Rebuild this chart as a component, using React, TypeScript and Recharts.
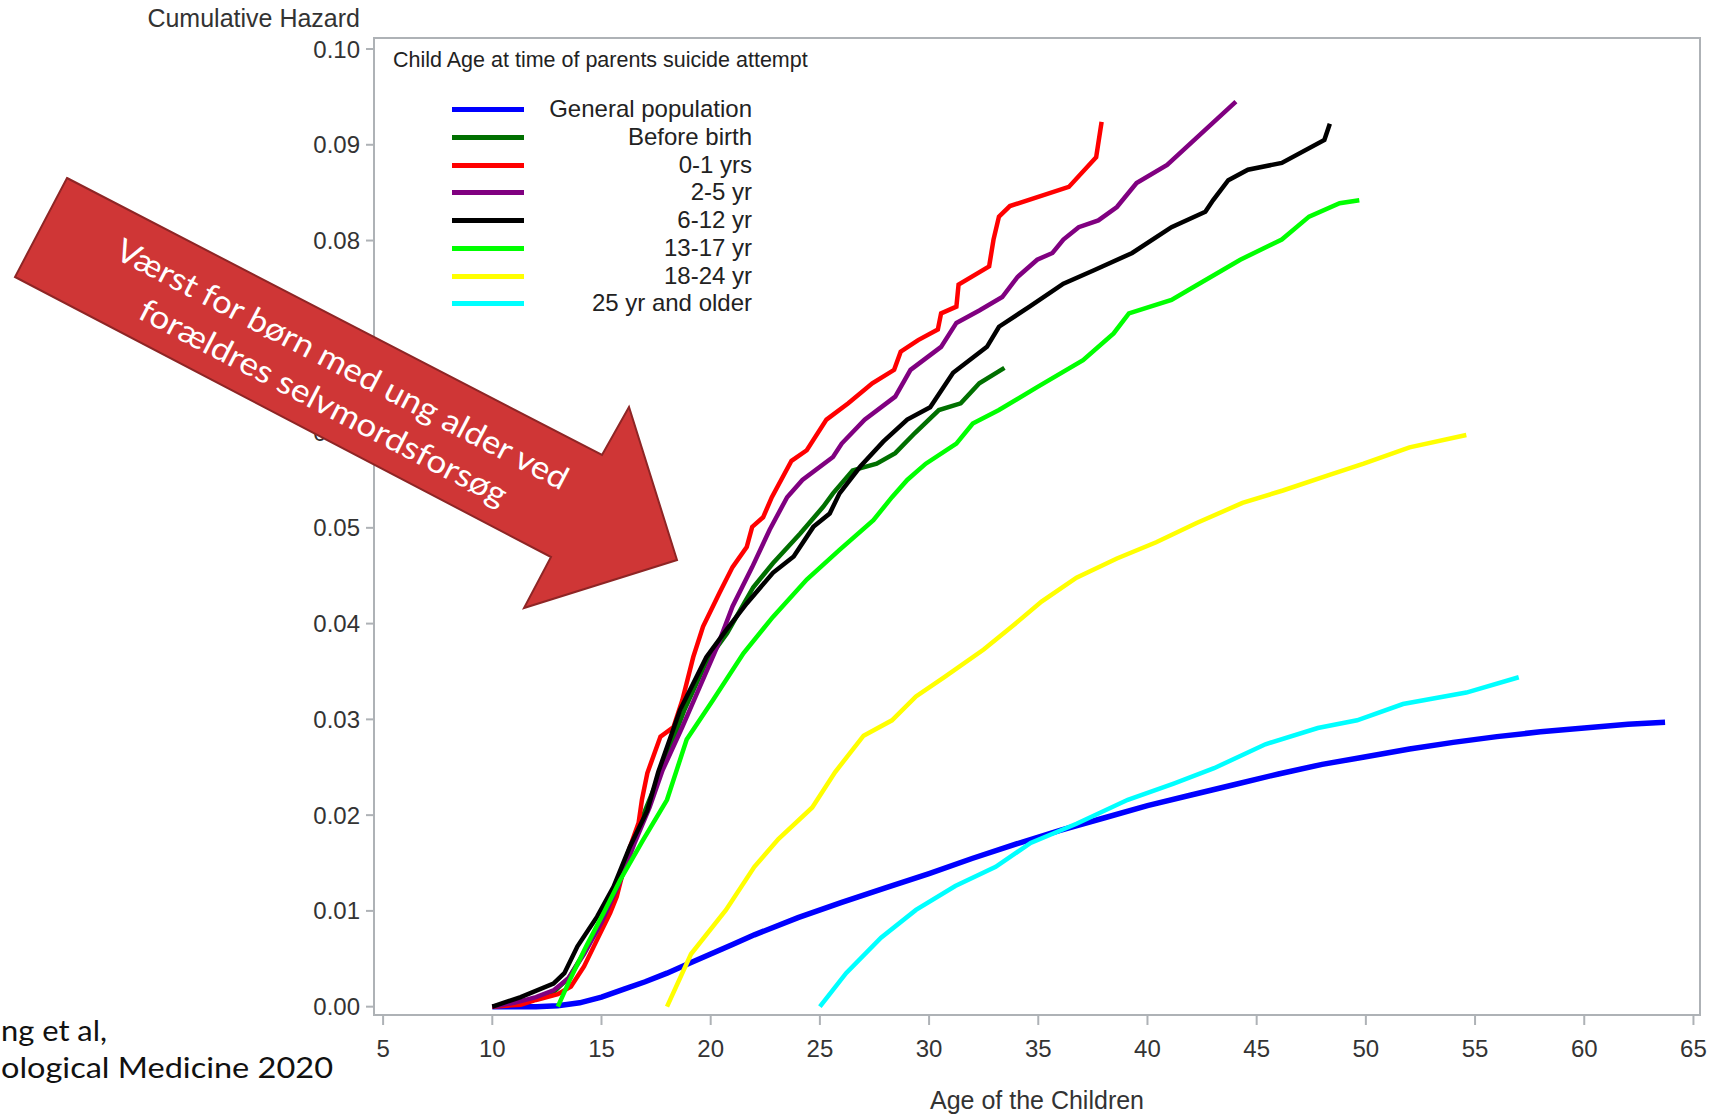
import React from 'react';
import { LineChart, Line, XAxis, YAxis, Legend, ReferenceArea } from 'recharts';

type Pt = [number, number];

// [age, cumulative hazard]
const generalPopulation: Pt[] = [
  [10, 0], [12, 0], [13, 0.0001], [14, 0.0004], [15, 0.001], [16, 0.0018], [17, 0.0026], [18, 0.0035],
  [19, 0.0045], [20, 0.0055], [21, 0.0065], [22, 0.0075], [24, 0.0093], [26, 0.0109], [28, 0.0124],
  [30, 0.0139], [32, 0.0155], [34, 0.017], [36, 0.0184], [38, 0.0197], [40, 0.021], [42, 0.0221],
  [44, 0.0232], [46, 0.0243], [48, 0.0253], [50, 0.0261], [52, 0.0269], [54, 0.0276], [56, 0.0282],
  [58, 0.0287], [60, 0.0291], [62, 0.0295], [63.7, 0.0297],
];

const beforeBirth: Pt[] = [
  [10, 0], [11.5, 0.0005], [12.8, 0.0015], [13.5, 0.003], [14.3, 0.006], [15.1, 0.0095], [16, 0.0145],
  [17, 0.0205], [17.8, 0.025], [18.8, 0.031], [19.8, 0.036], [20.75, 0.039], [21.95, 0.0438],
  [22.85, 0.0463], [24.1, 0.0494], [25.15, 0.0522], [25.6, 0.0536], [26.5, 0.056], [27.6, 0.0567],
  [28.45, 0.0578], [29.35, 0.0599], [30.45, 0.0623], [31.45, 0.063], [32.3, 0.0651], [33.45, 0.0667],
];

const age0to1: Pt[] = [
  [10, 0], [11.3, 0.0002], [12, 0.0007], [13, 0.0013], [13.6, 0.0021], [14.2, 0.0042], [14.8, 0.007],
  [15.4, 0.0098], [15.7, 0.0115], [16.2, 0.016], [16.7, 0.0192], [16.85, 0.0216], [17.1, 0.0244],
  [17.7, 0.0282], [18.3, 0.0292], [18.7, 0.032], [19.2, 0.0365], [19.65, 0.0397], [20.4, 0.0432],
  [21, 0.0459], [21.65, 0.048], [21.9, 0.0501], [22.4, 0.0511], [22.8, 0.0532], [23.7, 0.057],
  [24.4, 0.0581], [25.3, 0.0613], [26.3, 0.063], [27.4, 0.0651], [28.4, 0.0665], [28.7, 0.0684],
  [29.5, 0.0696], [30.4, 0.0707], [30.55, 0.0724], [31.25, 0.0731], [31.35, 0.0754], [32.75, 0.0773],
  [32.95, 0.0801], [33.2, 0.0825], [33.7, 0.0836], [36.4, 0.0856], [37.65, 0.0887], [37.9, 0.0924],
];

const age2to5: Pt[] = [
  [10, 0], [11, 0.0004], [12, 0.001], [12.8, 0.0017], [13.5, 0.003], [14.2, 0.0055], [15, 0.0088],
  [15.8, 0.0128], [16.5, 0.017], [17.2, 0.0208], [17.8, 0.0247], [18.7, 0.0292], [19.5, 0.0334],
  [20.3, 0.0376], [21, 0.0418], [21.9, 0.0459], [22.7, 0.0498], [23.5, 0.0532], [24.2, 0.055],
  [25.6, 0.0574], [26, 0.0588], [27.05, 0.0613], [28.45, 0.0637], [29.15, 0.0665], [30.55, 0.0689],
  [31.25, 0.0714], [32.3, 0.0727], [33.35, 0.0741], [34.05, 0.0762], [34.95, 0.078], [35.65, 0.0787],
  [36.15, 0.0801], [36.85, 0.0814], [37.75, 0.0821], [38.6, 0.0835], [39.5, 0.086], [40.9, 0.0879],
  [44.05, 0.0945],
];

const age6to12: Pt[] = [
  [10, 0], [11.3, 0.001], [12.8, 0.0024], [13.3, 0.0035], [13.9, 0.0063], [14.8, 0.0094],
  [15.55, 0.0125], [16.3, 0.0167], [17.1, 0.0205], [17.6, 0.0245], [18.6, 0.031], [19.8, 0.0365],
  [20.7, 0.0393], [21.65, 0.0421], [22.85, 0.0453], [23.8, 0.047], [24.7, 0.0501], [25.45, 0.0515],
  [25.9, 0.0536], [26.85, 0.0564], [27.9, 0.059], [29, 0.0613], [30.05, 0.0626], [31.1, 0.0662],
  [32.65, 0.0689], [33.2, 0.071], [34.6, 0.0731], [36.15, 0.0755], [37.55, 0.0769], [39.3, 0.0787],
  [41.1, 0.0814], [42.65, 0.083], [43, 0.0842], [43.7, 0.0863], [44.6, 0.0874], [46.15, 0.0881],
  [48.1, 0.0905], [48.35, 0.0922],
];

const age13to17: Pt[] = [
  [13, 0], [13.55, 0.0028], [14.3, 0.0063], [15.1, 0.0098], [15.85, 0.0132], [16.9, 0.0174],
  [18, 0.0216], [18.9, 0.0279], [20.1, 0.032], [21.5, 0.0369], [22.85, 0.0407], [24.4, 0.0446],
  [25.9, 0.0477], [27.45, 0.0508], [28.3, 0.0532], [29, 0.055], [29.85, 0.0567], [31.25, 0.0588],
  [32, 0.0609], [33.2, 0.0623], [34.95, 0.0647], [37.05, 0.0675], [38.45, 0.0703], [39.15, 0.0724],
  [41.1, 0.0738], [42.15, 0.0752], [44.25, 0.078], [46.15, 0.0801], [47.4, 0.0825], [48.8, 0.0839],
  [49.7, 0.0842],
];

const age18to24: Pt[] = [
  [18, 0], [19.1, 0.0055], [20.7, 0.0101], [22, 0.0146], [23.1, 0.0175], [24.65, 0.0208],
  [25.7, 0.0245], [27, 0.0283], [28.3, 0.0299], [29.4, 0.0324], [30.7, 0.0344], [32.5, 0.0373],
  [33.85, 0.0398], [35.15, 0.0423], [36.75, 0.0448], [38.6, 0.0468], [40.4, 0.0485], [42.25, 0.0505],
  [44.35, 0.0526], [46.2, 0.0539], [48.3, 0.0555], [49.9, 0.0567], [52, 0.0584], [54.6, 0.0597],
];

const age25plus: Pt[] = [
  [25, 0], [26.2, 0.0035], [27.8, 0.0072], [29.4, 0.0101], [31.2, 0.0126], [33.05, 0.0146],
  [34.65, 0.0171], [36.75, 0.0191], [39.1, 0.0216], [41.2, 0.0233], [43.05, 0.0249], [45.4, 0.0274],
  [47.8, 0.0291], [49.6, 0.0299], [51.7, 0.0316], [54.6, 0.0328], [57, 0.0344],
];

const seriesNames = [
  'General population', 'Before birth', '0-1 yrs', '2-5 yr', '6-12 yr', '13-17 yr', '18-24 yr', '25 yr and older',
];
const seriesColors = ['#0000ff', '#007000', '#ff0000', '#800080', '#000000', '#00ff00', '#ffff00', '#00ffff'];
const seriesPoints = [generalPopulation, beforeBirth, age0to1, age2to5, age6to12, age13to17, age18to24, age25plus];

const xTicks = [5, 10, 15, 20, 25, 30, 35, 40, 45, 50, 55, 60, 65];
const yTicks = [0, 0.01, 0.02, 0.03, 0.04, 0.05, 0.06, 0.07, 0.08, 0.09, 0.1];

const AXIS_FONT = '"Liberation Sans", Arial, sans-serif';
const SLIDE_FONT = 'Lato, "Open Sans", sans-serif';
const GREY = '#aeb2b6';

const toRows = (pts: Pt[]) => pts.map(([age, hazard]) => ({ age, hazard }));

const renderLegend = (props: any) => {
  const payload: any[] = props.payload || [];
  const ordered = seriesNames
    .map((n) => payload.find((p) => p.value === n))
    .filter(Boolean);
  return (
    <div style={{ position: 'relative', width: 1721, height: 1, fontFamily: AXIS_FONT, color: '#222' }}>
      <div style={{ position: 'absolute', left: 393, top: 48, fontSize: 21.5, whiteSpace: 'nowrap' }}>
        Child Age at time of parents suicide attempt
      </div>
      {ordered.map((p, i) => (
        <div
          key={p.value}
          style={{ position: 'absolute', left: 452, top: 95 + i * 27.75, width: 300, height: 28 }}
        >
          <span
            style={{ position: 'absolute', left: 0, top: 12, width: 72, height: 5, background: p.color }}
          />
          <span
            style={{ position: 'absolute', right: 0, top: 0, fontSize: 24, lineHeight: '28px', whiteSpace: 'nowrap' }}
          >
            {p.value}
          </span>
        </div>
      ))}
    </div>
  );
};

const App = () => {
  return (
    <div style={{ position: 'absolute', left: 0, top: 0, width: 1721, height: 1117, background: '#fff', overflow: 'hidden' }}>
      <LineChart width={1721} height={1117} margin={{ top: 38, right: 21, bottom: 0, left: 0 }}>
        <XAxis
          type="number"
          dataKey="age"
          domain={[4.583, 65.3]}
          ticks={xTicks}
          allowDataOverflow
          height={102}
          tickSize={10}
          tickMargin={15}
          stroke={GREY}
          strokeWidth={2}
          tick={{ fill: '#333', fontSize: 24, fontFamily: AXIS_FONT }}
          label={{
            content: () => (
              <text x={1037} y={1109} textAnchor="middle" fill="#333" fontSize={25} fontFamily={AXIS_FONT}>
                Age of the Children
              </text>
            ),
          }}
        />
        <YAxis
          type="number"
          domain={[-0.00087, 0.10115]}
          ticks={yTicks}
          allowDataOverflow
          width={374}
          tickSize={8}
          tickMargin={6}
          stroke={GREY}
          strokeWidth={2}
          tickFormatter={(v: number) => v.toFixed(2)}
          tick={{ fill: '#333', fontSize: 24, fontFamily: AXIS_FONT }}
          label={{
            content: () => (
              <text x={360} y={27} textAnchor="end" fill="#333" fontSize={25} fontFamily={AXIS_FONT}>
                Cumulative Hazard
              </text>
            ),
          }}
        />
        <ReferenceArea
          x1={4.583}
          x2={65.3}
          y1={-0.00087}
          y2={0.10115}
          fill="none"
          stroke={GREY}
          strokeWidth={2}
        />
        {seriesPoints.map((pts, i) => (
          <Line
            key={seriesNames[i]}
            name={seriesNames[i]}
            data={toRows(pts)}
            dataKey="hazard"
            type="linear"
            stroke={seriesColors[i]}
            strokeWidth={i === 0 ? 5.5 : 4.5}
            dot={false}
            activeDot={false}
            isAnimationActive={false}
          />
        ))}
        <Legend
          layout="horizontal"
          verticalAlign="middle"
          align="center"
          content={renderLegend}
          wrapperStyle={{ left: 0, top: 0, width: 1721, height: 1 }}
        />
      </LineChart>

      <svg
        width={1721}
        height={1117}
        style={{ position: 'absolute', left: 0, top: 0, pointerEvents: 'none' }}
      >
        <polygon
          points="67,178 602,455 629,407 677,560 524,608 551,557 15,277"
          fill="#cf3636"
          stroke="#8e2525"
          strokeWidth={2}
        />
        <text
          transform="translate(343,363) rotate(27.5)"
          textAnchor="middle"
          dominantBaseline="central"
          fill="#fff"
          fontSize={32}
          fontFamily={SLIDE_FONT}
          textLength={505}
          lengthAdjust="spacingAndGlyphs"
        >
          Værst for børn med ung alder ved
        </text>
        <text
          transform="translate(324,401) rotate(27.5)"
          textAnchor="middle"
          dominantBaseline="central"
          fill="#fff"
          fontSize={32}
          fontFamily={SLIDE_FONT}
          textLength={410}
          lengthAdjust="spacingAndGlyphs"
        >
          forældres selvmordsforsøg
        </text>
        <text x={1} y={1041} fill="#111" fontSize={28} fontFamily={SLIDE_FONT} textLength={106} lengthAdjust="spacingAndGlyphs">
          ng et al,
        </text>
        <text x={1} y={1078} fill="#111" fontSize={28} fontFamily={SLIDE_FONT} textLength={332} lengthAdjust="spacingAndGlyphs">
          ological Medicine 2020
        </text>
      </svg>
    </div>
  );
};

export default App;
